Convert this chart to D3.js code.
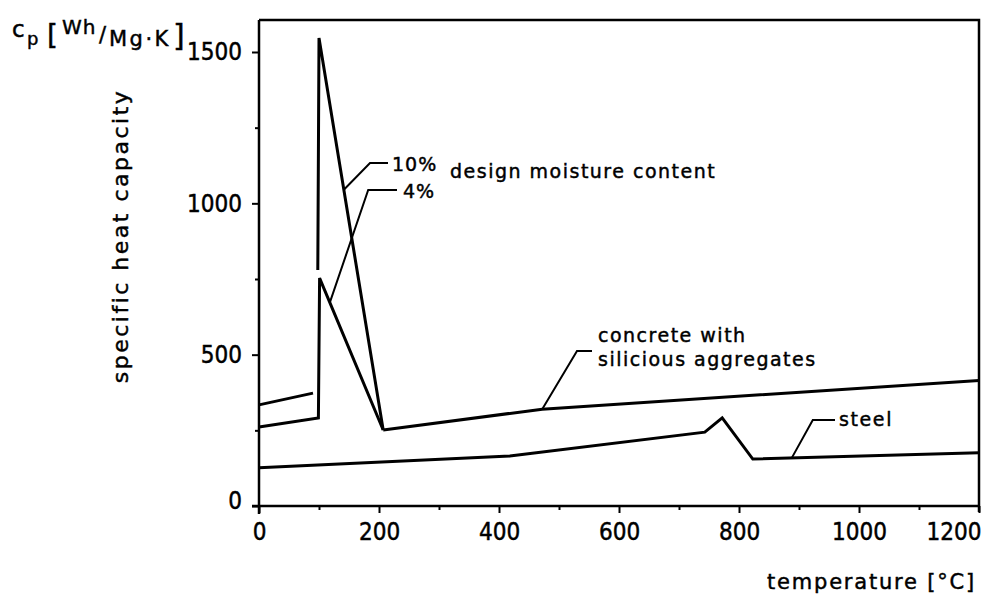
<!DOCTYPE html>
<html>
<head>
<meta charset="utf-8">
<script src="https://cdn.jsdelivr.net/npm/d3@7/dist/d3.min.js"></script>
<style>
  html, body { margin: 0; padding: 0; background: #fff; }
  svg { display: block; }
  text { font-family: "DejaVu Sans", sans-serif; fill: #000; stroke: #000; stroke-width: 0.45px; }
</style>
</head>
<body>
<svg id="chart" width="986" height="597"></svg>
<script>
// ---- data (temperature °C, specific heat capacity Wh/Mg·K) ----
const conc10Temp  = [0, 90, 94, 98, 100, 207];
const conc10Value = [334, 373, null, 780, 1546, 251];
const conc4Temp   = [0, 99, 101, 207];
const conc4Value  = [261, 291, 753, 251];
const concTemp    = [207, 472, 1200];
const concValue   = [251, 320, 415];
const steelTemp   = [0, 418, 743, 772, 823, 1200];
const steelValue  = [126, 165, 244, 291, 155, 176];

const xMajorTicks = [0, 200, 400, 600, 800, 1000, 1200];
const xMinorTicks = [100, 300, 500, 700, 900, 1100];
const yMajorTicks = [0, 500, 1000, 1500];
const yMinorTicks = [250, 750, 1250];

// annotation leaders: [temp, value] points
const lead10   = [[141, 1044], [185, 1133], [215, 1133]];
const lead4    = [[118, 672], [182, 1044], [230, 1044]];
const leadConc = [[472, 320], [530, 512], [555, 512]];
const leadSteel= [[888, 159], [923, 284], [960, 284]];

const svg = d3.select("#chart");
const x = d3.scaleLinear().domain([0, 1200]).range([259, 979]);
const y = d3.scaleLinear().domain([0, 1500]).range([506, 52]);
const topY = 20;

const zip = (a, b) => a.map((t, i) => [t, b[i]]);
const line = d3.line()
  .defined(d => d[1] !== null)
  .x(d => x(d[0])).y(d => y(d[1]));

// frame (top & right)
svg.append("path")
  .attr("d", `M${x(0)},${topY} H${x(1200)} V${y(0) + 6}`)
  .attr("fill", "none").attr("stroke", "#000").attr("stroke-width", 2.5);

// axes
const yAxis = svg.append("g").attr("transform", `translate(${x(0)},0)`)
  .call(d3.axisLeft(y).tickValues(yMajorTicks).tickFormat(d3.format("d"))
    .tickSize(7).tickPadding(10).tickSizeOuter(0));
yAxis.select(".domain").attr("d", `M0,${y(0) + 8}V${topY}`);
yAxis.selectAll(".tick text").filter(d => d === 0).attr("dy", "0.1em");
svg.append("g").attr("transform", `translate(${x(0)},0)`)
  .call(d3.axisLeft(y).tickValues(yMinorTicks).tickSize(4).tickFormat("").tickSizeOuter(0))
  .select(".domain").remove();

const xAxis = svg.append("g").attr("transform", `translate(0,${y(0)})`)
  .call(d3.axisBottom(x).tickValues(xMajorTicks).tickFormat(d3.format("d"))
    .tickSize(7).tickPadding(10).tickSizeOuter(0));
xAxis.select(".domain").attr("d", `M${x(0) - 7},0H${x(1200)}`);
xAxis.selectAll(".tick text").filter(d => d === 1200)
  .attr("text-anchor", "end").attr("x", 2);
svg.append("g").attr("transform", `translate(0,${y(0)})`)
  .call(d3.axisBottom(x).tickValues(xMinorTicks).tickSize(4).tickFormat("").tickSizeOuter(0))
  .select(".domain").remove();

svg.selectAll(".domain").attr("stroke-width", 2.5);
svg.selectAll(".tick line").attr("stroke-width", 2);
svg.selectAll(".tick text")
  .attr("fill", "#000")
  .style("font-size", "24px")
  .style("font-stretch", "condensed")
  .style("font-family", "'DejaVu Sans Condensed', 'DejaVu Sans', sans-serif");

// data lines
[[conc10Temp, conc10Value], [conc4Temp, conc4Value], [concTemp, concValue], [steelTemp, steelValue]]
  .forEach(([t, v]) => {
    svg.append("path").datum(zip(t, v))
      .attr("d", line)
      .attr("fill", "none").attr("stroke", "#000")
      .attr("stroke-width", 3).attr("stroke-linejoin", "miter");
  });

// leaders
[lead10, lead4, leadConc, leadSteel].forEach(pts => {
  svg.append("path").datum(pts).attr("d", line)
    .attr("fill", "none").attr("stroke", "#000").attr("stroke-width", 2);
});

// annotation texts
const label = (tx, ty, s, size, ls) => svg.append("text")
  .attr("x", tx).attr("y", ty).text(s)
  .style("font-size", size + "px").style("letter-spacing", ls + "px");

label(x(215) + 4, y(1133) + 8, "10%", 19, 1);
label(x(230) + 6, y(1044) + 8, "4%", 19, 1);
label(450, 178, "design moisture  content", 19, 1.5);
label(x(555) + 6, 342, "concrete with", 19, 1.5);
label(x(555) + 6, 366, "silicious aggregates", 19, 1.5);
label(x(960) + 4, 426, "steel", 19, 1.6);

// axis titles
label(767, 589, "temperature  [°C]", 21, 1.8);
svg.append("text")
  .attr("transform", "translate(128,236) rotate(-90)")
  .attr("text-anchor", "middle")
  .text("specific heat capacity")
  .style("font-size", "22px").style("letter-spacing", "2.5px");

// unit label top-left
const unit = svg.append("g");
const part = (px, py, s, size, ls) => unit.append("text")
  .attr("x", px).attr("y", py).text(s)
  .style("font-size", size + "px").style("letter-spacing", ls + "px");
part(12, 37, "c", 23, 0);
part(27, 45, "p", 18, 0);
part(47, 45, "[", 28, 0);
part(62, 34, "Wh", 20, 1);
part(99, 42, "/", 21, 0);
part(109, 46, "Mg·K", 21, 2.5);
part(173, 46, "]", 30, 0);
</script>
</body>
</html>
